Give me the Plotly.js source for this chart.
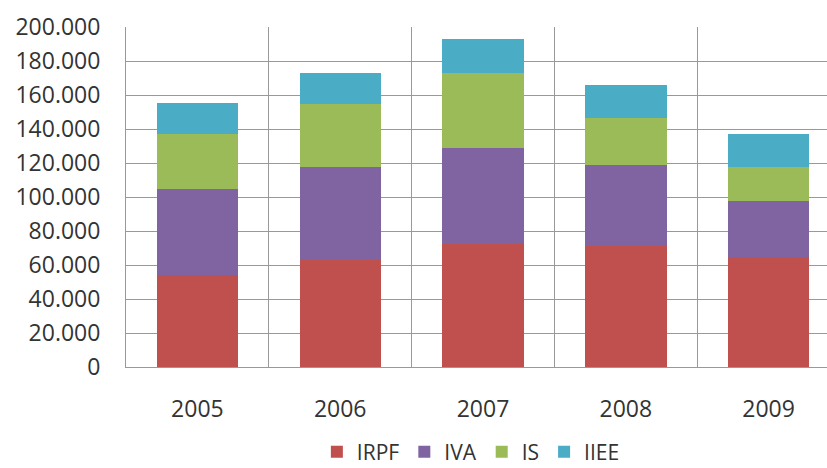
<!DOCTYPE html>
<html>
<head>
<meta charset="utf-8">
<script src="https://cdn.plot.ly/plotly-3.0.1.min.js"></script>
<style>
html,body{margin:0;padding:0;overflow:hidden;background:#fff;}
#chart{width:841px;height:468px;}
</style>
</head>
<body>
<div id="chart"></div>
<script>
var years = ['2005', '2006', '2007', '2008', '2009'];
var irpf = [54300, 62700, 72400, 71200, 64100];
var iva  = [50200, 54900, 56200, 47800, 33500];
var is_  = [32600, 36900, 44500, 27700, 20000];
var iiee = [18000, 18600, 20000, 19400, 19500];
var yTicks = [0, 20000, 40000, 60000, 80000, 100000, 120000, 140000, 160000, 180000, 200000];

var font = 'Open Sans, Noto Sans, sans-serif';
function tr(name, vals, color) {
  return {type: 'bar', name: name, x: years, y: vals,
          marker: {color: color, line: {width: 0}}, hoverinfo: 'x+y+name'};
}
var data = [
  tr('IRPF', irpf, '#C0504D'),
  tr('IVA', iva, '#8064A2'),
  tr('IS', is_, '#9BBB59'),
  tr('IIEE', iiee, '#4BACC6')
];
var layout = {
  width: 841, height: 468,
  margin: {l: 126, r: 1, t: 27, b: 101, autoexpand: false},
  barmode: 'stack',
  bargap: 0.43,
  separators: ',.',
  paper_bgcolor: '#fff', plot_bgcolor: '#fff',
  font: {family: font, size: 23, color: '#333'},
  showlegend: true,
  legend: {orientation: 'h', x: 0.483, xanchor: 'center', y: -0.25, yanchor: 'middle',
           font: {size: 21, color: '#333'}, traceorder: 'normal'},
  xaxis: {type: 'category', tickson: 'boundaries', showgrid: true, gridcolor: '#999', gridwidth: 1,
          ticks: '', showline: true, linecolor: '#999', linewidth: 1,
          ticklabelstandoff: 21, tickfont: {size: 23, color: '#333'}},
  yaxis: {range: [0, 200000], tickvals: yTicks, tickformat: ',d', showgrid: true,
          gridcolor: '#999', gridwidth: 1, zeroline: false, showline: true,
          linecolor: '#999', linewidth: 1, ticks: '', ticklabelstandoff: 20,
          tickfont: {size: 23, color: '#333'}}
};
Plotly.newPlot('chart', data, layout, {displayModeBar: false, staticPlot: true});
</script>
</body>
</html>
